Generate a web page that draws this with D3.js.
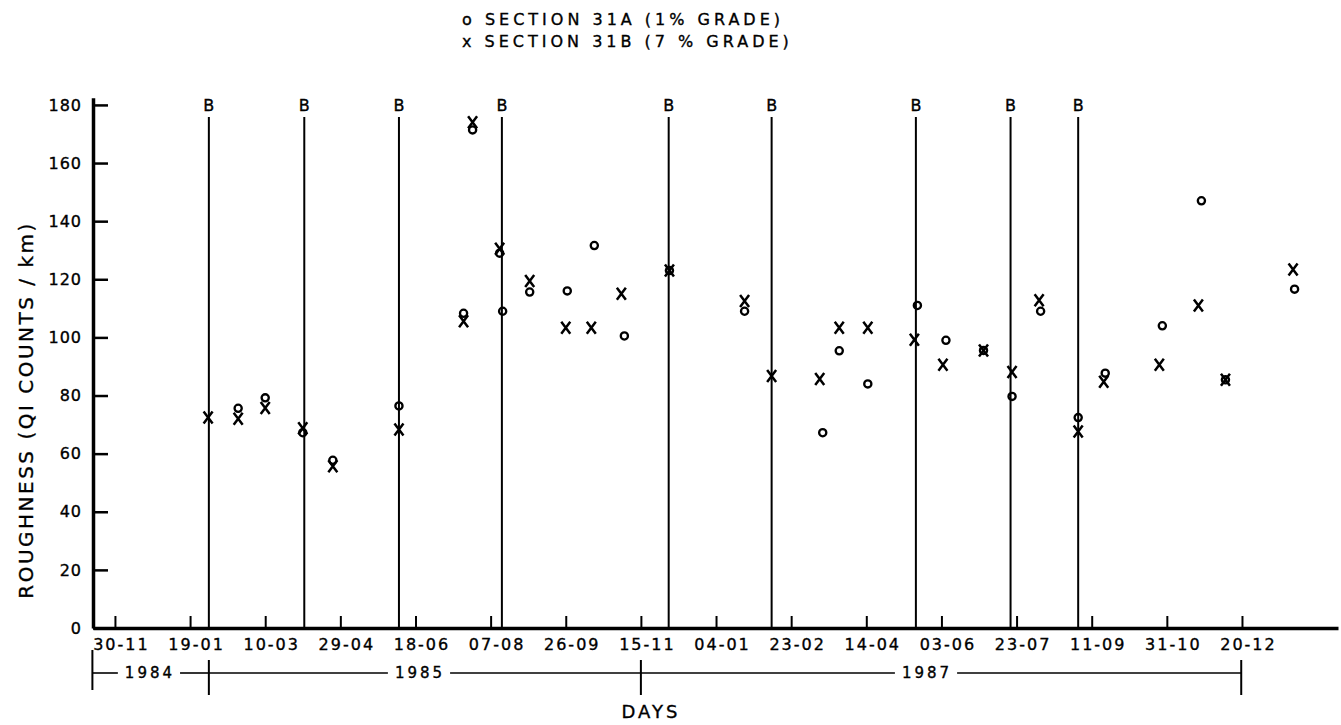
<!DOCTYPE html>
<html><head><meta charset="utf-8">
<script src="https://cdn.jsdelivr.net/npm/d3@7"></script>
<style>
body{margin:0;background:#fff}
text{font-family:"DejaVu Sans",sans-serif;fill:#000;stroke:#000;stroke-width:0.35px}
</style>
</head><body>
<svg id="c" width="1341" height="725"></svg>
<script>
// ---- data ----
const tickDays = [0,50,100,150,200,250,300,350,400,450,500,550,600,650,700,750];
const tickLabels = ["30-11","19-01","10-03","29-04","18-06","07-08","26-09","15-11","04-01","23-02","14-04","03-06","23-07","11-09","31-10","20-12"];
const yTicks = [0,20,40,60,80,100,120,140,160,180];

// Section 31A (1% grade) - circles; days since 30-11-1984
const aDays   = [82, 100, 125, 145, 189, 232, 238, 256, 258, 276, 301, 319, 339, 369, 419, 471, 482, 501, 534, 553, 578, 597, 616, 641, 659, 697, 723, 739, 785];
const aValues = [75.6, 79.2, 67.2, 57.7, 76.4, 108.3, 171.4, 129, 109, 115.6, 116, 131.6, 100.5, 123, 109, 67.2, 95.4, 84, 111, 99, 95.5, 79.7, 109, 72.4, 87.7, 104, 147, 85.4, 116.6];
// Section 31B (7% grade) - crosses
const bDays   = [62, 82, 100, 125, 145, 189, 232, 238, 256, 276, 300, 317, 337, 369, 419, 437, 469, 482, 501, 532, 551, 578, 597, 615, 641, 658, 695, 721, 739, 784];
const bValues = [72.4, 72, 75.7, 68.7, 55.7, 68.3, 105.6, 174, 130.5, 119.4, 103.3, 103.3, 115, 123, 112.5, 86.7, 85.7, 103.3, 103.3, 99.2, 90.6, 95.5, 88.1, 112.8, 67.6, 84.7, 90.6, 111, 85.4, 123.4];

const breakDays = [62.5, 126, 189, 257.5, 368.5, 437, 533, 596, 641];
const breakLabel = "B";

const yearBounds = [-15, 62.5, 350, 749.5];
const yearLabels = ["1984","1985","1987"];
const yearLabelDays = [23.3, 203, 540.4];

const legendLabels = ["o SECTION 31A (1% GRADE)", "x SECTION 31B (7 % GRADE)"];
const yTitle = "ROUGHNESS (QI COUNTS / km)";
const xTitle = "DAYS";

// ---- chart ----
const svg = d3.select("#c");
const x = d3.scaleLinear().domain([-14.6, 813.9]).range([93, 1338]);
const y = d3.scaleLinear().domain([0, 182.5]).range([628, 628 - 182.5*2.906]);

function fit(sel, target){
  sel.style("letter-spacing","0px");
  const n = sel.text().length;
  const w = sel.node().getComputedTextLength();
  sel.style("letter-spacing", ((target - w)/(n-1)) + "px");
}

// x axis
const xAxis = d3.axisBottom(x).tickValues(tickDays)
  .tickFormat((d,i)=>tickLabels[i]).tickSizeInner(-12).tickSizeOuter(0).tickPadding(11);
const gx = svg.append("g").attr("transform",`translate(0,${y(0)})`).call(xAxis);
gx.select(".domain").attr("stroke","#000").attr("stroke-width",3.5);
gx.selectAll(".tick line").attr("stroke","#000").attr("stroke-width",2);
gx.selectAll(".tick text").attr("font-size",16).attr("dx",6).style("letter-spacing","2px")
  .attr("font-family","DejaVu Sans").attr("fill","#000");

// y axis
const yAxis = d3.axisLeft(y).tickValues(yTicks).tickSizeInner(-15).tickSizeOuter(0).tickPadding(11);
const gy = svg.append("g").attr("transform",`translate(${x(-14.6)},0)`).call(yAxis);
gy.select(".domain").attr("stroke","#000").attr("stroke-width",3.5);
gy.selectAll(".tick line").attr("stroke","#000").attr("stroke-width",2.5);
gy.selectAll(".tick text").attr("font-size",16).style("letter-spacing","1px")
  .attr("font-family","DejaVu Sans").attr("fill","#000");

// break lines
const br = svg.append("g");
br.selectAll("line").data(breakDays).join("line")
  .attr("x1",d=>x(d)).attr("x2",d=>x(d))
  .attr("y1",y(180)+12).attr("y2",y(0))
  .attr("stroke","#000").attr("stroke-width",2);
br.selectAll("text").data(breakDays).join("text")
  .attr("x",d=>x(d)).attr("y",y(180)+6).attr("text-anchor","middle")
  .attr("font-size",16).text(breakLabel);

// markers
svg.append("g").selectAll("circle").data(aDays.map((d,i)=>[d,aValues[i]])).join("circle")
  .attr("cx",d=>x(d[0])).attr("cy",d=>y(d[1])).attr("r",3.6)
  .attr("fill","none").attr("stroke","#000").attr("stroke-width",2.3);
svg.append("g").selectAll("path").data(bDays.map((d,i)=>[d,bValues[i]])).join("path")
  .attr("transform",d=>`translate(${x(d[0])},${y(d[1])})`)
  .attr("d","M-4.5,-6L4.5,6M4.5,-6L-4.5,6")
  .attr("fill","none").attr("stroke","#000").attr("stroke-width",2.5);

// legend
svg.append("g").selectAll("text").data(legendLabels).join("text")
  .attr("x",462).attr("y",(d,i)=>25+i*22)
  .attr("font-size",16).style("letter-spacing","4px").text(d=>d);

// y title
const yt = svg.append("text").attr("transform","translate(33,410) rotate(-90)")
  .attr("text-anchor","middle").attr("font-size",20).text(yTitle);
fit(yt, 375);

// year band
const yb = svg.append("g");
const bandY = 673;
yb.selectAll("line.div").data(yearBounds).join("line").attr("class","div")
  .attr("x1",d=>x(d)).attr("x2",d=>x(d))
  .attr("y1",(d,i)=>i===0?650:660).attr("y2",(d,i)=>i===0?690:695)
  .attr("stroke","#000").attr("stroke-width",2);
yearLabels.forEach((lab,i)=>{
  const t = yb.append("text").attr("x",x(yearLabelDays[i])).attr("y",bandY+5)
    .attr("text-anchor","middle").attr("font-size",15).style("letter-spacing","3px").text(lab);
  const w = t.node().getComputedTextLength();
  const cx = x(yearLabelDays[i]);
  yb.append("line").attr("x1",x(yearBounds[i])).attr("x2",cx-w/2-7)
    .attr("y1",bandY).attr("y2",bandY).attr("stroke","#000").attr("stroke-width",1.6);
  yb.append("line").attr("x1",cx+w/2+5).attr("x2",x(yearBounds[i+1]))
    .attr("y1",bandY).attr("y2",bandY).attr("stroke","#000").attr("stroke-width",1.6);
});

// x title
svg.append("text").attr("x",651).attr("y",718).attr("text-anchor","middle")
  .attr("font-size",18).style("letter-spacing","3px").text(xTitle);
</script>
</body></html>
